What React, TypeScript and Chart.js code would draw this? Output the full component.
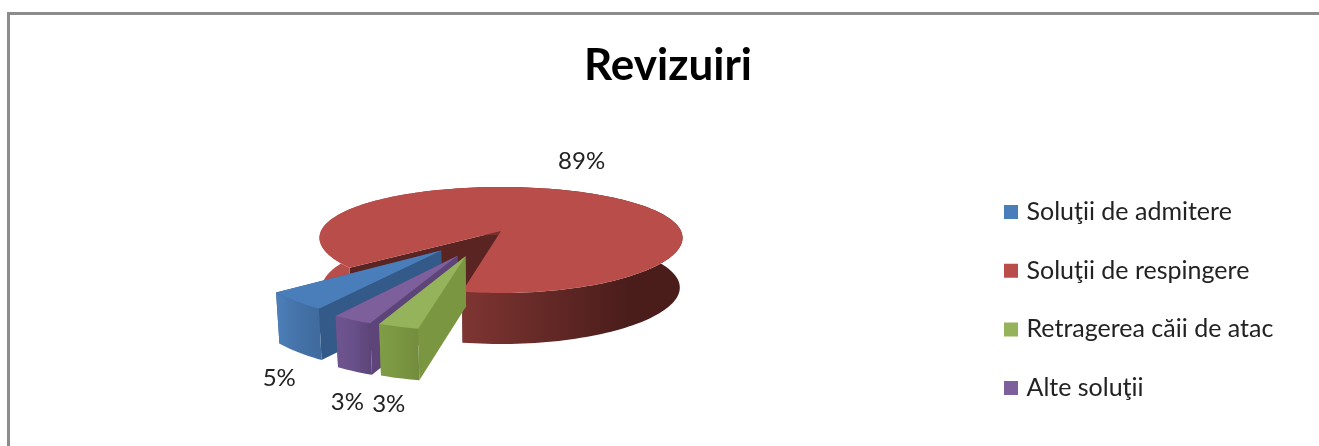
import React, { useEffect, useRef } from "react";
import { Chart, registerables } from "chart.js";

Chart.register(...registerables);

const categories = ["Soluţii de admitere", "Soluţii de respingere", "Retragerea căii de atac", "Alte soluţii"];
const values = [5, 89, 3, 3];
const topColors = ["#4A7EBB", "#B94D49", "#95B35B", "#7D5F9C"];
const wallColors = ["#345A8A", "#5A2422", "#7A9641", "#5E4579"];
const sideStops: string[][] = [
  ["#4C7FBA", "#4573A8", "#3F6B9E"],
  ["#B84E4A", "#7E3532", "#4A1D1B"],
  ["#7F9C46", "#7A9641", "#738D3D"],
  ["#6F5590", "#68508A", "#5E4579"],
];
const explode = [86, 0, 88, 90];
const explodeBias = [0, 0, 6, 0];
const labelNudges = [[-19, 26], [-2, -31], [-11, 26], [-7, 31]];
const drawOrder = [1, 0, 3, 2];

const FONT = "Lato";
const FLAT = 0.286;
const DEPTH = 0.275;

const pie3d = {
  id: "pie3d",
  afterLayout(chart: any) {
    const lg = chart.legend;
    const pad = lg.options.labels.padding;
    lg.left = 1008 - pad;
    lg.right = lg.left + lg.width;
    lg.top = 199.5 - pad;
    lg.bottom = lg.top + lg.height;
    const t = chart.titleBlock;
    const h = t.height;
    t.left = 8;
    t.right = 1328;
    t.width = 1320;
    t.top = 66 - h / 2;
    t.bottom = t.top + h;
  },
  beforeDatasetsDraw(chart: any) {
    const ctx: CanvasRenderingContext2D = chart.ctx;
    const arcs = chart.getDatasetMeta(0).data;
    const shapes = arcs.map((arc: any, i: number) => {
      const R = arc.outerRadius;
      const mid = (arc.startAngle + arc.endAngle) / 2;
      const off = arc.options.offset / R;
      const dir = mid + (explodeBias[i] * Math.PI) / 180;
      const ox = off * Math.cos(dir);
      const oy = off * Math.sin(dir);
      const P = (r: number, a: number, z: number) => {
        const X = ox + r * Math.cos(a);
        const Y = oy + r * Math.sin(a);
        const wx = 1 / (1 - 0.13 * Y);
        const wy = 1 / (1 - 0.17 * Y);
        return [
          arc.x + X * R * wx * (1 - 0.015 * z),
          arc.y + Y * R * FLAT * wy + z * R * DEPTH * (1 + 0.03 * Y),
        ];
      };
      return { arc, i, P, mid };
    });
    const poly = (pts: number[][], fill: any) => {
      ctx.beginPath();
      pts.forEach((p, k) => (k ? ctx.lineTo(p[0], p[1]) : ctx.moveTo(p[0], p[1])));
      ctx.closePath();
      ctx.fillStyle = fill;
      ctx.fill();
    };
    ctx.save();
    drawOrder.forEach((idx) => {
      const { arc, P, i } = shapes[idx];
      const s = arc.startAngle;
      const e = arc.endAngle;
      const n = Math.max(4, Math.ceil((e - s) / 0.03));
      const outerTop: number[][] = [];
      const outerBot: number[][] = [];
      for (let k = 0; k <= n; k++) {
        const a = s + ((e - s) * k) / n;
        outerTop.push(P(1, a, 0));
        outerBot.push(P(1, a, 1));
      }
      poly([P(0, e, 0), P(1, e, 0), P(1, e, 1), P(0, e, 1)], wallColors[i]);
      poly([P(0, s, 0), P(1, s, 0), P(1, s, 1), P(0, s, 1)], wallColors[i]);
      const xs = outerTop.map((p) => p[0]);
      const minX = Math.min(...xs);
      const maxX = Math.max(...xs);
      const g = ctx.createLinearGradient(minX, 0, maxX, 0);
      const st = sideStops[i];
      if (i === 1) {
        g.addColorStop(0, st[0]);
        g.addColorStop(0.085, st[0]);
        g.addColorStop(0.4, st[1]);
        g.addColorStop(0.85, st[2]);
        g.addColorStop(1, st[2]);
      } else {
        g.addColorStop(0, st[0]);
        g.addColorStop(0.5, st[1]);
        g.addColorStop(1, st[2]);
      }
      poly([...outerTop, ...outerBot.slice().reverse()], g);
      poly([P(0, s, 0), ...outerTop], arc.options.backgroundColor);
    });
    ctx.fillStyle = "#222222";
    ctx.font = `24px ${FONT}`;
    ctx.textAlign = "center";
    ctx.textBaseline = "middle";
    const total = values.reduce((a, b) => a + b, 0);
    shapes.forEach(({ P, i, mid }: any) => {
      const p = P(1, mid, i === 1 ? 0 : 1);
      ctx.fillText(`${Math.round((values[i] / total) * 100)}%`, p[0] + labelNudges[i][0], p[1] + labelNudges[i][1]);
    });
    ctx.restore();
    return false;
  },
};

export default function App() {
  const ref = useRef<HTMLCanvasElement>(null);
  useEffect(() => {
    const size = 44;
    const chart = new Chart(ref.current as HTMLCanvasElement, {
      type: "pie",
      data: {
        labels: categories,
        datasets: [
          {
            data: values,
            backgroundColor: topColors,
            borderWidth: 0,
            offset: explode,
            radius: 180,
          } as any,
        ],
      },
      plugins: [pie3d as any],
      options: {
        animation: false,
        responsive: false,
        events: [],
        rotation: 212.5,
        layout: { padding: { left: 0, right: 317, top: 0, bottom: size - 16 } },
        plugins: {
          tooltip: { enabled: false },
          title: {
            display: true,
            text: "Revizuiri",
            color: "#000000",
            padding: 0,
            font: { family: FONT, size, weight: "bold", lineHeight: 1 },
          },
          legend: {
            position: "chartArea",
            align: "start",
            labels: {
              boxWidth: 6,
              boxHeight: 6,
              padding: 33.7,
              color: "#222222",
              font: { family: FONT, size: 25 },
              generateLabels(chart: any) {
                return (Chart as any).overrides.pie.plugins.legend.labels
                  .generateLabels(chart)
                  .map((item: any) => ({ ...item, strokeStyle: item.fillStyle, lineWidth: 8, lineJoin: "miter" }));
              },
            },
          },
        },
      } as any,
    });
    return () => chart.destroy();
  }, []);
  return (
    <div style={{ position: "fixed", inset: 0, overflow: "hidden", background: "#fff" }}>
      <div
        style={{
          position: "absolute",
          left: 7,
          top: 12,
          width: 1400,
          height: 500,
          borderLeft: "3px solid #8c8c8c",
          borderTop: "3px solid #8c8c8c",
        }}
      />
      <canvas ref={ref} width={1319} height={446} style={{ position: "absolute", left: 0, top: 0, width: 1319, height: 446 }} />
    </div>
  );
}
